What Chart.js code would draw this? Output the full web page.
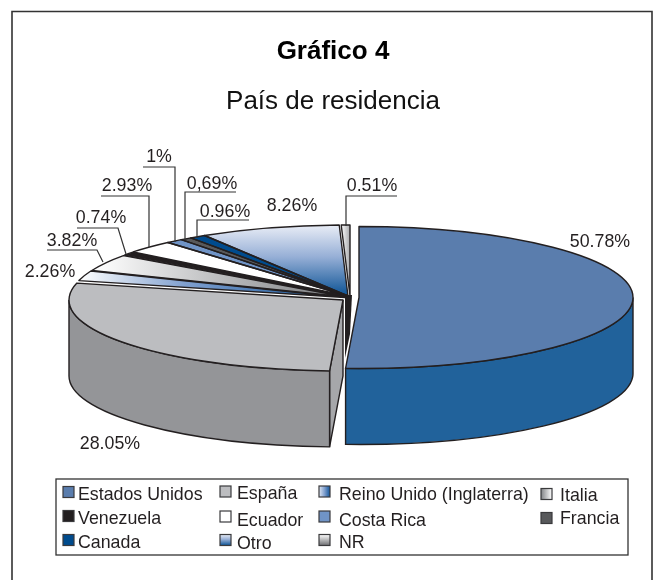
<!DOCTYPE html>
<html><head><meta charset="utf-8">
<style>html,body{margin:0;padding:0;background:#fff}canvas{display:block}</style>
<script src="https://cdn.jsdelivr.net/npm/chart.js@4"></script>
</head><body><canvas id="c" width="653" height="580"></canvas>
<script>
const categories = ["Estados Unidos","España","Reino Unido (Inglaterra)","Italia","Venezuela","Ecuador","Costa Rica","Francia","Canada","Otro","NR"];
const values = [50.78,28.05,2.26,3.82,0.74,2.93,1,0.69,0.96,8.26,0.51];
const valueLabels = ["50.78%","28.05%","2.26%","3.82%","0.74%","2.93%","1%","0,69%","0.96%","8.26%","0.51%"];

// ----- styling and layout, separate from the data -----
const INK = "#231f20";
const FONT = '17.8px "Liberation Sans"';
const CENTER = {x:348, y:296};
const RX = 274, RY = 71, DEPTH = 76;
const sliceShift = [[11,1.5],[-5,4],[-3,1.5],[-2,1],[-1,0.5],[0,0],[0,0],[0,0],[0,0],[0,0],[2,0]];
const wallColors = {0:"#21629b",1:"#949598"};
const cutColor = "#a6a7aa";
const solid = ["#5a7dad","#bcbdc0",null,null,"#231f20","#ffffff","#7094c6","#58595b","#004b8d",null,null];
const labelPos = [[600,242],[110,444],[50,272],[72,241],[101,218],[127,186],[159,157],[212,184],[225,212],[292,206],[372,186]];
const leaders = {
  3:[[47,250],[97,250],[103,262]],
  4:[[77,228],[118,228],[126,254]],
  5:[[101,196],[149,196],[149,247]],
  6:[[143,167],[175,167],[175,242]],
  7:[[236,192],[185,192],[185,240]],
  8:[[249,220],[197,220],[197,238]],
  10:[[397,196],[346,196],[346,226]]
};
const legendBox = {x:56,y:479,w:572,h:76};
const legendPos = [[63,492,78,495],[220,491.5,237,494],[319,491.5,339,495],[541,494,560,496],
                   [63,516,78,519],[220,516.5,237,521],[319,516.5,339,521],[541,518,560,519],
                   [63,540,78,543],[220,540,237,544],[319,540,339,543]];

function grad(g,x0,y0,x1,y1,stops){
  const l=g.createLinearGradient(x0,y0,x1,y1);
  stops.forEach(s=>l.addColorStop(s[0],s[1]));
  return l;
}
const reinoStops=[[0,"#ffffff"],[0.4,"#7f9fce"],[1,"#10549a"]];
const italiaStops=[[0,"#ffffff"],[1,"#808285"]];
const otroStops=[[0,"#e9edf6"],[0.45,"#96afd6"],[1,"#0b5294"]];
const nrStops=[[0,"#ffffff"],[1,"#a8a9ac"]];

function sliceFill(ctx){
  const i=ctx.dataIndex, a=ctx.chart.chartArea, g=ctx.chart.ctx;
  if(solid[i]||!a) return solid[i]||"#ccc";
  const cx=(a.left+a.right)/2, cy=(a.top+a.bottom)/2;
  if(i===2) return grad(g,cx-265,0,cx,0,reinoStops);
  if(i===3) return grad(g,cx-250,0,cx-15,0,italiaStops);
  if(i===9) return grad(g,0,cy-RX,0,cy,otroStops);
  return grad(g,cx-9,0,cx,0,nrStops);
}

function place(arc,i){
  return {x:CENTER.x+sliceShift[i][0], y:CENTER.y+sliceShift[i][1]};
}
function wall(g,arc,i){
  const c=place(arc,i), a0=Math.max(arc.startAngle,0), a1=Math.min(arc.endAngle,Math.PI);
  if(a1<=a0) return;
  g.beginPath();
  g.ellipse(c.x,c.y,RX,RY,0,a0,a1,false);
  g.ellipse(c.x,c.y+DEPTH,RX,RY,0,a1,a0,true);
  g.closePath();
  g.fillStyle=wallColors[i]||"#555"; g.fill();
  g.strokeStyle=INK; g.lineWidth=1.4; g.stroke();
}
function cutFace(g,arc,i){
  const c=place(arc,i), px=c.x+RX*Math.cos(arc.startAngle), py=c.y+RY*Math.sin(arc.startAngle);
  g.beginPath();
  g.moveTo(c.x,c.y); g.lineTo(px,py); g.lineTo(px,py+DEPTH); g.lineTo(c.x,c.y+DEPTH); g.closePath();
  g.fillStyle=cutColor; g.fill();
  g.strokeStyle=INK; g.lineWidth=1.4; g.stroke();
}
function outline(g,arc,i){
  const c=place(arc,i);
  g.beginPath();
  g.moveTo(c.x,c.y);
  g.ellipse(c.x,c.y,RX,RY,0,arc.startAngle,arc.endAngle,false);
  g.closePath();
  g.strokeStyle=INK; g.lineWidth=1.4; g.lineJoin="round"; g.stroke();
}

const obliquePie = {
  id:"obliquePie",
  beforeDraw(chart){
    const g=chart.ctx; g.save();
    g.fillStyle="#fff"; g.fillRect(0,0,chart.width,chart.height);
    g.strokeStyle="#333"; g.lineWidth=1.6;
    g.beginPath(); g.moveTo(12,580); g.lineTo(12,11.5); g.lineTo(652,11.5); g.lineTo(652,580); g.stroke();
    g.restore();
  },
  beforeDatasetsDraw(chart){
    const g=chart.ctx, arcs=chart.getDatasetMeta(0).data, k=RY/RX;
    g.save();
    cutFace(g,arcs[1],1);
    wall(g,arcs[1],1);
    wall(g,arcs[0],0);
    // narrow dark strip: edges of the small slices seen below the hub
    g.beginPath();
    g.moveTo(CENTER.x-3,CENTER.y-1); g.lineTo(CENTER.x+4,CENTER.y-1);
    g.lineTo(CENTER.x+2,CENTER.y+38); g.lineTo(CENTER.x-3,CENTER.y+62); g.closePath();
    g.fillStyle=INK; g.fill();
    arcs.forEach((arc,i)=>{
      const c=place(arc,i);
      g.save();
      g.translate(c.x,c.y); g.scale(1,k); g.translate(-arc.x,-arc.y);
      arc.draw(g);
      g.restore();
    });
    arcs.forEach((arc,i)=>outline(g,arc,i));
    g.restore();
    return false;
  },
  afterDraw(chart){
    const g=chart.ctx; g.save();
    g.font=FONT; g.fillStyle=INK; g.textAlign="center"; g.textBaseline="middle";
    valueLabels.forEach((t,i)=>g.fillText(t,labelPos[i][0],labelPos[i][1]));
    g.strokeStyle="#333"; g.lineWidth=1.2; g.lineJoin="miter";
    Object.values(leaders).forEach(p=>{
      g.beginPath(); g.moveTo(p[0][0],p[0][1]);
      p.slice(1).forEach(q=>g.lineTo(q[0],q[1])); g.stroke();
    });
    // legend
    g.fillStyle="#fff"; g.strokeStyle="#333"; g.lineWidth=1.3;
    g.fillRect(legendBox.x,legendBox.y,legendBox.w,legendBox.h);
    g.strokeRect(legendBox.x,legendBox.y,legendBox.w,legendBox.h);
    g.textAlign="left";
    categories.forEach((t,i)=>{
      const p=legendPos[i], x=p[0], y=p[1]-5.5, s=11;
      let f=solid[i];
      if(i===2) f=grad(g,x,0,x+s,0,[[0,"#dfe7f3"],[0.5,"#7f9fce"],[1,"#10549a"]]);
      if(i===3) f=grad(g,x,0,x+s,0,[[0,"#808285"],[1,"#ffffff"]]);
      if(i===9) f=grad(g,0,y,0,y+s,otroStops);
      if(i===10) f=grad(g,0,y,0,y+s,[[0,"#ffffff"],[1,"#6d6e71"]]);
      g.fillStyle=f; g.fillRect(x,y,s,s);
      g.strokeStyle="#3a3a3c"; g.lineWidth=1.2; g.strokeRect(x,y,s,s);
      g.fillStyle=INK; g.fillText(t,p[2],p[3]);
    });
    g.restore();
  }
};

new Chart(document.getElementById("c"),{
  type:"pie",
  data:{labels:categories,datasets:[{data:values,backgroundColor:sliceFill,borderWidth:0,radius:RX}]},
  options:{
    responsive:false,animation:false,
    layout:{padding:{left:13,top:36,right:0,bottom:0}},
    plugins:{
      legend:{display:false},tooltip:{enabled:false},
      title:{display:true,text:"Gráfico 4",color:"#000",font:{family:"Liberation Sans",size:26,weight:"bold"},padding:{top:0,bottom:19}},
      subtitle:{display:true,text:"País de residencia",color:"#111",font:{family:"Liberation Sans",size:26,weight:"normal"},padding:0}
    }
  },
  plugins:[obliquePie]
});
</script></body></html>
